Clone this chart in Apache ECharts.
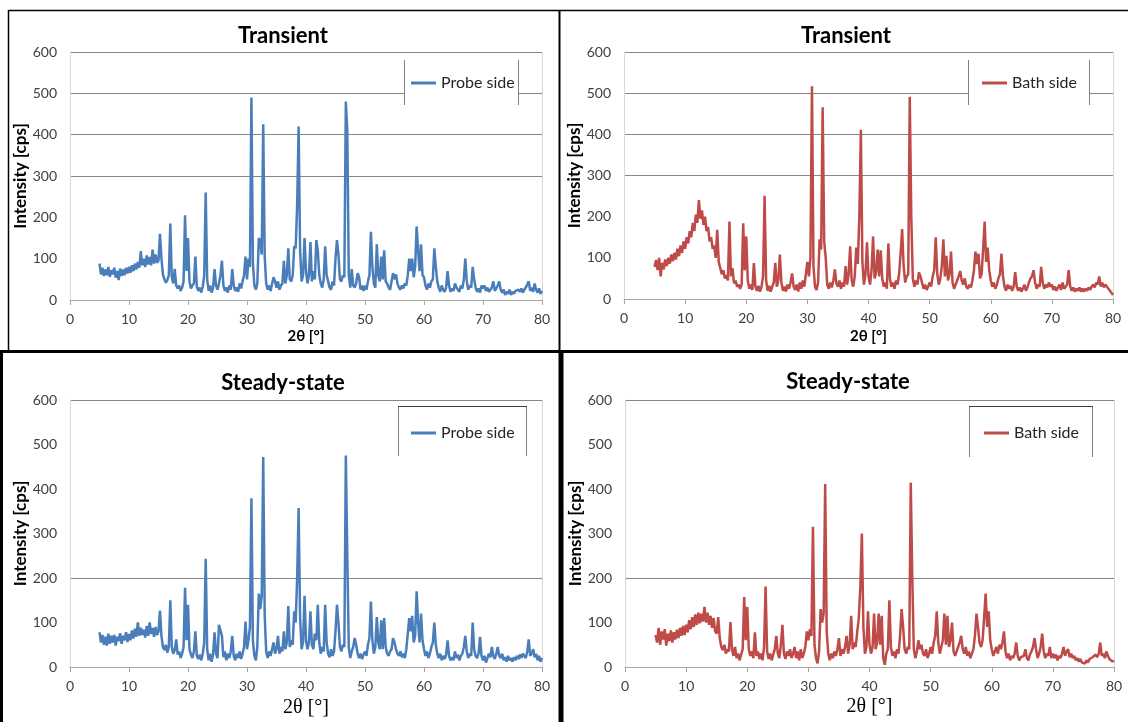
<!DOCTYPE html>
<html>
<head>
<meta charset="utf-8">
<title>XRD patterns</title>
<script src="https://cdn.jsdelivr.net/npm/echarts@6/dist/echarts.min.js"></script>
<style>
  html, body { margin: 0; padding: 0; background: #fff; }
  #chart { width: 1128px; height: 722px; }
</style>
</head>
<body>
<div id="chart"></div>
<script>
// scan grid: 2theta from 5 to 80 deg, step 0.25 deg
const START = 5;
const STEP = 0.25;

// intensities [cps], one row = 5 deg (20 points)
const transientProbe = [
  88,62,78,58,74,60,80,56,72,62,78,54,70,48,76,58,74,60,78,64,
  80,66,84,70,88,74,92,78,118,84,100,80,108,86,104,84,122,88,110,90,
  95,160,100,62,50,42,48,60,185,55,40,75,35,28,35,22,30,45,205,70,
  150,45,28,35,40,105,32,22,30,18,32,60,260,50,22,35,18,30,75,35,
  25,40,60,95,35,22,30,18,35,25,75,35,22,30,20,40,28,45,60,105,
  50,100,80,490,90,35,25,40,150,140,110,425,105,40,25,35,22,40,55,45,
  30,45,25,35,40,95,40,60,125,50,45,60,130,125,230,420,120,45,60,150,
  70,40,60,140,45,70,50,145,120,60,40,30,50,130,60,45,30,25,45,35,
  100,145,110,50,45,60,55,480,410,60,30,75,35,30,40,65,55,25,35,22,
  35,25,45,60,165,80,40,30,135,60,45,105,50,120,45,40,30,25,45,65,
  50,62,40,30,25,35,28,40,35,60,100,70,100,55,80,178,120,70,135,60,
  55,35,25,40,30,45,50,125,80,45,30,20,35,25,20,30,70,35,20,28,
  22,40,30,25,20,35,28,50,100,45,25,35,30,80,50,30,20,28,18,35,
  28,35,22,30,20,25,30,45,22,28,35,45,25,18,25,12,20,15,25,12,
  20,15,22,18,25,20,28,18,25,30,28,45,22,30,20,40,25,18,28,15,
  22
];

const transientBath = [
  78,95,70,100,55,88,72,96,80,100,86,108,92,112,96,122,104,130,112,140,
  122,150,135,165,150,185,165,205,185,240,195,215,180,200,165,175,140,150,122,130,
  100,168,90,75,60,70,50,58,45,188,55,75,38,45,30,35,25,35,184,70,
  152,45,25,35,22,87,30,20,32,18,30,55,251,45,20,32,18,30,40,88,
  30,45,108,40,20,30,18,35,25,40,62,30,22,35,18,40,25,45,30,60,
  90,55,100,517,80,30,22,40,145,120,466,140,100,35,25,40,28,45,72,38,
  30,45,25,40,30,80,35,60,128,45,30,55,125,85,200,411,90,35,60,138,
  55,35,70,152,50,65,120,55,118,50,30,40,25,135,50,30,40,25,45,35,
  60,110,170,80,40,55,60,491,200,50,30,45,35,65,55,40,25,35,22,30,
  40,30,55,70,150,60,35,50,80,145,55,105,45,60,115,40,25,35,45,55,
  68,45,35,50,30,25,35,28,45,70,115,85,110,50,60,120,188,90,125,70,
  45,30,40,25,35,50,60,110,55,30,20,35,25,32,20,30,65,30,20,28,
  18,25,35,20,28,40,50,55,70,40,25,35,30,78,40,25,35,28,40,30,
  35,22,30,20,28,35,22,40,25,30,35,70,30,20,28,18,25,20,28,18,
  25,18,25,20,28,22,30,35,28,40,35,55,30,40,28,35,38,25,20,15,
  10
];

const steadyProbe = [
  78,55,72,50,68,48,75,52,70,55,72,48,68,58,76,52,70,60,78,56,
  74,60,82,64,86,68,100,70,88,72,84,66,92,70,100,74,88,68,90,72,
  80,127,70,45,38,50,32,45,150,45,30,38,62,28,35,20,30,45,178,60,
  140,40,28,20,35,80,25,18,28,15,30,55,243,40,15,30,12,28,78,30,
  20,95,92,70,22,35,15,30,20,35,70,25,15,30,20,35,18,30,45,102,
  40,60,90,379,60,25,15,45,165,130,160,472,115,35,20,35,25,40,55,30,
  40,70,30,45,35,80,40,55,137,45,60,50,125,100,200,357,110,40,55,160,
  60,40,55,125,50,40,75,60,140,55,30,45,35,140,55,30,22,40,25,35,
  80,140,100,45,35,50,45,475,250,45,20,35,45,65,50,30,20,30,18,28,
  35,25,50,65,147,60,30,45,112,55,40,105,40,110,45,30,25,35,40,65,
  55,40,30,25,35,22,30,20,40,75,110,80,115,55,70,170,100,55,120,60,
  40,25,35,20,30,45,55,100,50,30,20,30,15,25,18,28,60,25,15,22,
  15,35,20,28,15,25,30,45,70,35,20,30,25,100,40,25,20,30,68,25,
  15,25,10,20,30,22,45,25,18,30,45,25,20,30,15,22,12,25,15,20,
  12,22,15,25,18,28,20,30,25,20,35,62,25,30,40,22,30,15,25,12,
  20
];

const steadyBath = [
  72,55,88,50,80,62,85,48,75,58,82,55,78,62,84,65,88,70,92,72,
  95,78,105,85,112,90,118,95,122,98,120,102,135,100,122,95,115,88,110,80,
  75,112,65,45,38,50,30,40,35,101,40,25,45,20,30,15,28,40,157,60,
  135,40,25,35,20,78,25,35,18,30,15,45,181,35,18,30,15,28,40,70,
  30,20,50,95,30,18,35,25,40,20,30,45,20,35,15,40,20,30,45,80,
  60,85,70,315,50,20,8,35,130,100,120,411,80,30,15,30,20,35,25,40,
  65,25,40,30,45,70,30,50,115,40,55,45,80,110,180,300,90,30,45,125,
  50,30,45,120,40,55,120,50,115,20,5,30,40,150,45,25,35,20,40,30,
  70,130,90,40,30,45,40,414,200,40,20,35,60,40,50,30,25,40,20,30,
  45,30,55,70,125,55,30,45,60,120,50,115,45,60,100,35,25,35,45,55,
  70,40,30,45,25,35,20,30,40,70,120,90,55,45,60,110,165,90,125,60,
  40,25,35,45,30,50,40,55,80,35,20,30,15,25,20,30,55,25,15,22,
  18,25,40,20,15,28,35,45,65,40,20,30,45,75,35,20,30,25,45,20,
  30,20,28,15,25,20,30,45,25,35,40,22,30,20,25,15,20,12,18,10,
  12,8,15,10,18,14,22,18,28,22,30,55,25,30,20,35,25,18,22,12,
  15
];

const BLUE = '#4a7ebb';
const RED = '#be4b48';
const SANS = 'Lato, "DejaVu Sans", sans-serif';
const SERIF = '"Liberation Serif", "DejaVu Serif", serif';
const GRID_LINE = '#868686';
const NONE = 'rgba(0,0,0,0)';

// horizontal gridlines per tick 0..600 (only some are drawn in the figure)
const transientLines = [NONE, NONE, NONE, GRID_LINE, GRID_LINE, GRID_LINE, GRID_LINE];
const steadyLines = [NONE, NONE, GRID_LINE, NONE, NONE, NONE, GRID_LINE];
// vertical lines per tick 0..80: only the right edge
const edgeLines = [NONE, NONE, NONE, NONE, NONE, NONE, NONE, NONE, '#d9d9d9'];

const pairs = vals => vals.map((v, i) => [START + STEP * i, v]);

const panels = [
  { grid: { left: 70, top: 52, width: 472, height: 248 }, title: 'Transient', titleX: 283, titleY: 36,
    name: 'Probe side', data: transientProbe, color: BLUE, lines: transientLines,
    xNameStyle: { fontFamily: SANS, fontWeight: 'bold', fontSize: 15, color: '#000' }, xNameGap: 29,
    legend: { left: 411, top: 75 }, box: { x: 404, y: 60, w: 114, h: 45, top: false } },
  { grid: { left: 624, top: 52, width: 489, height: 247 }, title: 'Transient', titleX: 846, titleY: 36,
    name: 'Bath side', data: transientBath, color: RED, lines: transientLines,
    xNameStyle: { fontFamily: SANS, fontWeight: 'bold', fontSize: 15, color: '#000' }, xNameGap: 30,
    legend: { left: 982, top: 75 }, box: { x: 968, y: 60, w: 121, h: 45, top: false } },
  { grid: { left: 70, top: 400, width: 472, height: 267 }, title: 'Steady-state', titleX: 283, titleY: 383,
    name: 'Probe side', data: steadyProbe, color: BLUE, lines: steadyLines,
    xNameStyle: { fontFamily: SERIF, fontSize: 20, color: '#000' }, xNameGap: 31,
    legend: { left: 411, top: 425 }, box: { x: 398, y: 406, w: 128, h: 50, top: true } },
  { grid: { left: 625, top: 400, width: 489, height: 267 }, title: 'Steady-state', titleX: 848, titleY: 382,
    name: 'Bath side', data: steadyBath, color: RED, lines: steadyLines,
    xNameStyle: { fontFamily: SERIF, fontSize: 20, color: '#000' }, xNameGap: 30,
    legend: { left: 984, top: 425 }, box: { x: 969, y: 406, w: 123, h: 51, top: true } }
];

const labelStyle = { fontFamily: SANS, fontSize: 14, color: '#404040' };

const graphic = [];
panels.forEach(p => {
  graphic.push({
    type: 'text', x: p.titleX, y: p.titleY, z: 10,
    style: { text: p.title, font: 'bold 22px ' + SANS, fill: '#000', align: 'center', verticalAlign: 'middle' }
  });
  const b = p.box;
  graphic.push({ type: 'rect', z: 3, shape: { x: b.x, y: b.y, width: b.w, height: b.h }, style: { fill: '#fff' } });
  graphic.push({ type: 'line', z: 3, shape: { x1: b.x + 0.5, y1: b.y, x2: b.x + 0.5, y2: b.y + b.h }, style: { stroke: '#7f7f7f', lineWidth: 1 } });
  graphic.push({ type: 'line', z: 3, shape: { x1: b.x + b.w + 0.5, y1: b.y, x2: b.x + b.w + 0.5, y2: b.y + b.h }, style: { stroke: '#7f7f7f', lineWidth: 1 } });
  if (b.top) {
    graphic.push({ type: 'line', z: 3, shape: { x1: b.x, y1: b.y + 0.5, x2: b.x + b.w + 1, y2: b.y + 0.5 }, style: { stroke: '#404040', lineWidth: 1 } });
  }
});

// panel frames
const frame = (x1, y1, x2, y2, w) => ({ type: 'line', z: 20, shape: { x1, y1, x2, y2 }, style: { stroke: '#000', lineWidth: w } });
graphic.push(
  frame(8.5, 10.5, 560, 10.5, 1.5),
  frame(560, 10.5, 1128, 10.5, 1.5),
  frame(8.5, 10, 8.5, 351, 1.5),
  frame(559.5, 10, 559.5, 351, 2),
  frame(0, 351.5, 1128, 351.5, 3),
  frame(561, 351, 561, 722, 5),
  frame(1.5, 351, 1.5, 722, 3)
);

const chart = echarts.init(document.getElementById('chart'));
chart.setOption({
  animation: false,
  backgroundColor: '#fff',
  grid: panels.map(p => p.grid),
  xAxis: panels.map((p, i) => ({
    type: 'value', gridIndex: i, min: 0, max: 80, interval: 10,
    name: '2θ [°]', nameLocation: 'middle', nameGap: p.xNameGap, nameTextStyle: p.xNameStyle,
    axisLine: { show: true, onZero: false, lineStyle: { color: '#a6a6a6', width: 1 } },
    axisTick: { show: true, inside: false, length: 5, lineStyle: { color: '#a6a6a6' } },
    axisLabel: Object.assign({ margin: 12 }, labelStyle),
    splitLine: { show: true, lineStyle: { color: edgeLines, width: 1 } }
  })),
  yAxis: panels.map((p, i) => ({
    type: 'value', gridIndex: i, min: 0, max: 600, interval: 100,
    name: 'Intensity [cps]', nameLocation: 'middle', nameRotate: 90, nameGap: 38,
    nameTextStyle: { fontFamily: SANS, fontWeight: 'bold', fontSize: 17, color: '#000' },
    axisLine: { show: true, lineStyle: { color: '#d9d9d9', width: 1 } },
    axisTick: { show: false },
    axisLabel: Object.assign({ margin: 13 }, labelStyle),
    splitLine: { show: true, lineStyle: { color: p.lines, width: 1 } }
  })),
  legend: panels.map(p => ({
    data: [{ name: p.name, icon: 'rect' }], left: p.legend.left, top: p.legend.top, padding: 0,
    itemWidth: 25, itemHeight: 3, selectedMode: false, z: 10,
    textStyle: { fontFamily: SANS, fontSize: 16, color: '#262626' }
  })),
  series: panels.map((p, i) => ({
    type: 'line', name: p.name, xAxisIndex: i, yAxisIndex: i,
    data: pairs(p.data), symbol: 'none', silent: true, z: 2,
    lineStyle: { color: p.color, width: 2.5 }, itemStyle: { color: p.color }
  })),
  graphic: graphic
});
</script>
</body>
</html>
